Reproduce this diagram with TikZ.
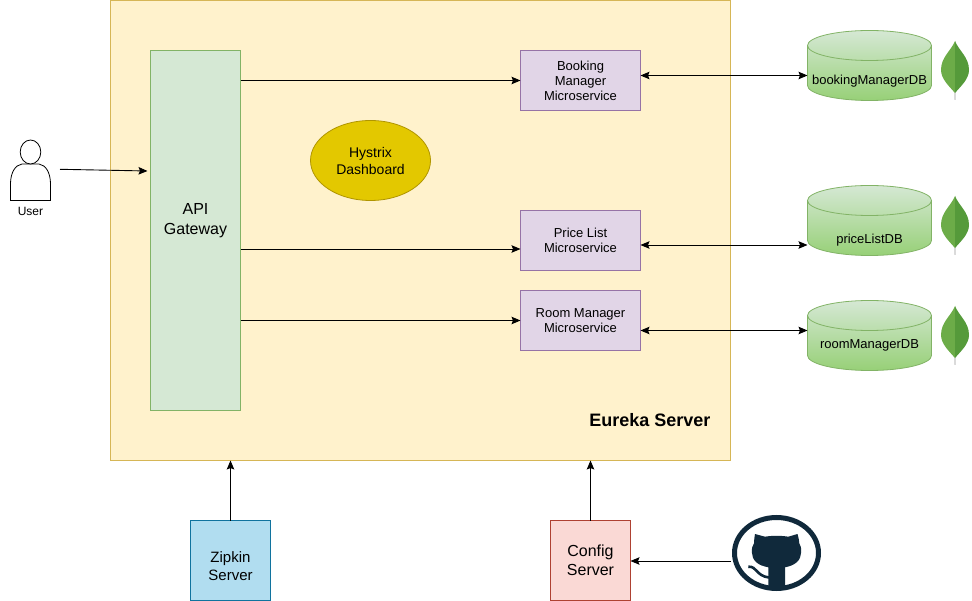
\documentclass[tikz,border=0pt]{standalone}
\usepackage{fontspec}
\setmainfont{Liberation Sans}
\usetikzlibrary{arrows.meta,shapes.geometric}
\definecolor{euf}{HTML}{FFF2CC}\definecolor{eud}{HTML}{D6B656}
\definecolor{grf}{HTML}{D5E8D4}\definecolor{grd}{HTML}{82B366}
\definecolor{puf}{HTML}{E1D5E7}\definecolor{pud}{HTML}{9673A6}
\definecolor{hyf}{HTML}{E3C800}\definecolor{hyd}{HTML}{B09500}
\definecolor{blf}{HTML}{B1DDF0}\definecolor{bld}{HTML}{10739E}
\definecolor{rdf}{HTML}{FAD9D5}\definecolor{rdd}{HTML}{AE4132}
\definecolor{cylb}{HTML}{97D077}
\definecolor{leafl}{HTML}{6CAC48}\definecolor{leafr}{HTML}{559A3A}
\definecolor{ghub}{HTML}{10293B}
\tikzset{
  box/.style={draw,rectangle,inner sep=0pt,outer sep=0pt,align=center,anchor=north west,line width=0.8pt},
  svc/.style={box,fill=puf,draw=pud,minimum width=120pt,minimum height=60pt,font=\fontsize{13}{15}\selectfont},
  conn/.style={draw=black,line width=0.9pt,-{Stealth[length=9pt,width=7.5pt,inset=1.5pt]}},
  biconn/.style={draw=black,line width=0.9pt,{Stealth[length=9pt,width=7.5pt,inset=1.5pt]}-{Stealth[length=9pt,width=7.5pt,inset=1.5pt]}},
  dbbox/.style={inner sep=0pt,outer sep=0pt,minimum width=124pt,minimum height=70pt,anchor=north west},
  dblabel/.style={font=\fontsize{13}{15}\selectfont},
}
\newcommand{\dbcyl}[2]{%
  \path[top color=grf,bottom color=cylb,draw=grd,line width=0.8pt]
    (#1,#2+15) arc[start angle=180,end angle=360,x radius=62,y radius=15]
    -- (#1+124,#2+55) arc[start angle=0,end angle=180,x radius=62,y radius=15] -- cycle;
  \draw[grd,line width=0.8pt] (#1,#2+15) arc[start angle=180,end angle=0,x radius=62,y radius=15];
}
\newcommand{\leaf}[2]{%
  \fill[gray!45] (#1-0.9,#2+45) -- (#1+0.9,#2+45) -- (#1+0.5,#2+59) -- (#1-0.5,#2+59) -- cycle;
  \fill[leafl] (#1,#2) .. controls (#1-4,#2+10) and (#1-14,#2+16) .. (#1-14,#2+29)
    .. controls (#1-14,#2+38) and (#1-6,#2+45) .. (#1,#2+52) -- cycle;
  \fill[leafr] (#1,#2) .. controls (#1+4,#2+10) and (#1+14,#2+16) .. (#1+14,#2+29)
    .. controls (#1+14,#2+38) and (#1+6,#2+45) .. (#1,#2+52) -- cycle;
}
\begin{document}
\begin{tikzpicture}[x=1pt,y=-1pt]
\useasboundingbox (0,0) rectangle (972,601);
\node[box,fill=euf,draw=eud,minimum width=620pt,minimum height=460pt] (eureka) at (110.5,0.5) {};
\node[font=\bfseries\fontsize{18}{21}\selectfont,anchor=east] (eurekalabel) at (714,420) {Eureka Server};
\node[box,fill=grf,draw=grd,minimum width=90pt,minimum height=360pt] (gateway) at (150.5,50.5) {};
\node[align=center,font=\fontsize{16}{20}\selectfont] (gatewaylabel) at (195.5,220.5) {API\\Gateway};
\node[svc] (booking) at (520.5,50.5) {Booking\\Manager\\Microservice};
\node[svc] (price) at (520.5,210.5) {Price List\\Microservice};
\node[svc] (room) at (520.5,290.5) {Room Manager\\Microservice};
\node[draw=hyd,fill=hyf,ellipse,inner sep=0pt,outer sep=0pt,minimum width=120pt,minimum height=80pt,align=center,line width=0.8pt,font=\fontsize{14}{17}\selectfont] (hystrix) at (370.5,160.5) {Hystrix\\Dashboard};
\node[box,fill=blf,draw=bld,minimum width=80pt,minimum height=80pt] (zipkin) at (190.5,520.5) {};
\node[align=center,font=\fontsize{15}{18}\selectfont] (zipkinlabel) at (230.5,566) {Zipkin\\Server};
\node[box,fill=rdf,draw=rdd,minimum width=80pt,minimum height=80pt] (config) at (550.5,520.5) {};
\node[align=center,font=\fontsize{16}{19}\selectfont] (configlabel) at (590.5,560.5) {Config\\Server};
% databases
\dbcyl{807.5}{30.5}
\dbcyl{807.5}{185.5}
\dbcyl{807.5}{300.5}
\node[dbbox] (bookdb) at (807.5,30.5) {};
\node[dbbox] (pricedb) at (807.5,185.5) {};
\node[dbbox] (roomdb) at (807.5,300.5) {};
\node[dblabel] (booklabel) at (869.5,81) {bookingManagerDB};
\node[dblabel] (pricelabel) at (869.5,240.5) {priceListDB};
\node[dblabel] (roomlabel) at (869.5,345.5) {roomManagerDB};
\leaf{955}{41}
\leaf{955}{196}
\leaf{955}{306}
% user
\draw[black,line width=0.8pt,fill=white] (10.5,200.5) -- (10.5,184)
  .. controls (10.5,173) and (15,165) .. (22,164) -- (39,164)
  .. controls (46,165) and (50.5,173) .. (50.5,184) -- (50.5,200.5) -- cycle;
\draw[black,line width=0.8pt,fill=white] (30.5,152) ellipse[x radius=10.3,y radius=12];
\coordinate (userr) at (60,169.3);
\node[font=\fontsize{12}{14}\selectfont] (userlabel) at (30.5,211) {User};
% github
\draw[ghub,line width=5pt] (776.5,553) ellipse[x radius=42,y radius=35.5];
\fill[ghub] (755,534) -- (765,536.7) .. controls (772,535.5) and (781,535.5) .. (788.3,536.7)
  -- (797.5,534) .. controls (798.5,537) and (799,540) .. (799.3,543.3)
  .. controls (802,547) and (802.5,557) .. (797,562) .. controls (794,565) and (789,566.5) .. (785,567.3)
  -- (785,588) .. controls (778,590.5) and (775,590.5) .. (768.3,588) -- (768.3,567.3)
  .. controls (764,566.5) and (759,565) .. (756,562) .. controls (750.5,557) and (751,547) .. (754,543.3)
  .. controls (754,540) and (754.5,537) .. (755,534) -- cycle;
\draw[ghub,line width=2.6pt] (748.3,566.7) .. controls (757,566) and (756,576) .. (769,577.5);
\coordinate (github) at (731,561);
% connectors
\draw[conn] (gateway.east |- booking.west) -- (booking.west);
\draw[conn] (gateway.east |- 0,249) -- (price.west |- 0,249);
\draw[conn] (gateway.east |- room.west) -- (room.west);
\draw[biconn] (booking.east |- 0,75.5) -- (bookdb.west |- 0,75.5);
\draw[biconn] (price.east |- 0,245) -- (pricedb.west |- 0,245);
\draw[biconn] (room.east |- 0,330.5) -- (roomdb.west |- 0,330.5);
\draw[conn] (userr) -- (147.5,171);
\draw[conn] (zipkin.north) -- (zipkin.north |- eureka.south);
\draw[conn] (config.north) -- (config.north |- eureka.south);
\draw[conn] (github) -- (config.east |- github);
\end{tikzpicture}
\end{document}
